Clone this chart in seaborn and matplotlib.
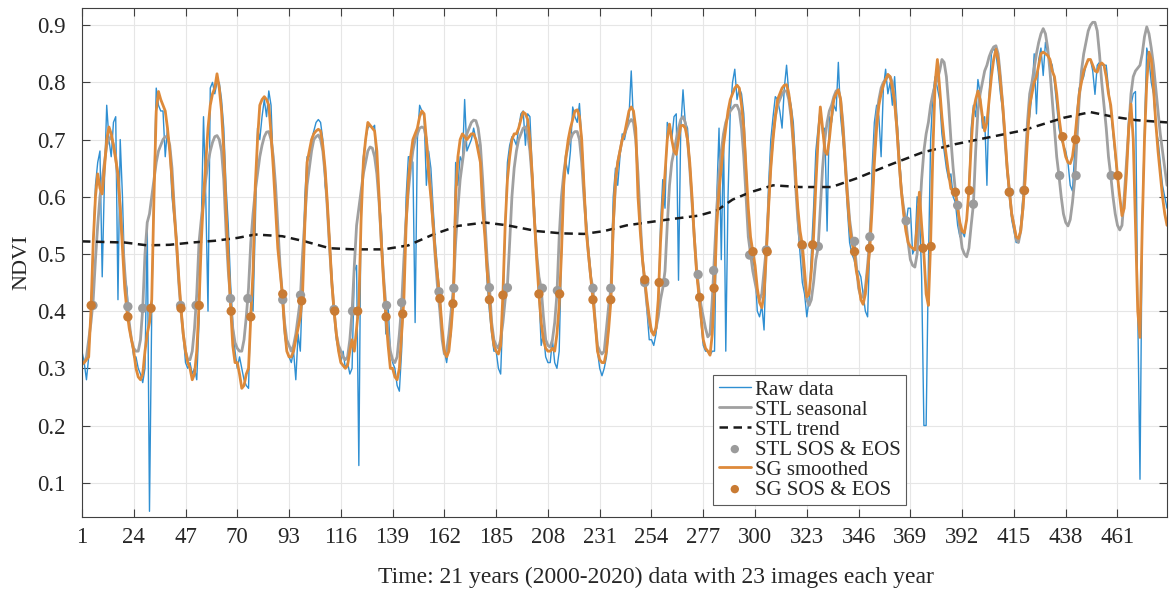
import numpy as np
import pandas as pd
import matplotlib
matplotlib.use("Agg")
import matplotlib.pyplot as plt
import seaborn as sns

# 21 years (2000-2020), 23 composite images per year
images_per_year = 23
n_years = 21
x_ticks = list(range(1, 462, 23))
y_ticks = [0.1, 0.2, 0.3, 0.4, 0.5, 0.6, 0.7, 0.8, 0.9]

# raw NDVI, one row per year
raw_ndvi = [
    0.33, 0.31, 0.28, 0.32, 0.40, 0.52, 0.62, 0.66, 0.68, 0.46, 0.63, 0.76, 0.70, 0.67, 0.73, 0.74, 0.42, 0.70, 0.60, 0.46, 0.44, 0.38, 0.35,
    0.32, 0.32, 0.30, 0.29, 0.275, 0.30, 0.555, 0.05, 0.40, 0.62, 0.79, 0.76, 0.75, 0.75, 0.67, 0.72, 0.68, 0.60, 0.56, 0.53, 0.45, 0.41, 0.36,
    0.31, 0.30, 0.31, 0.29, 0.30, 0.28, 0.38, 0.55, 0.74, 0.60, 0.40, 0.79, 0.80, 0.78, 0.80, 0.80, 0.77, 0.72, 0.62, 0.55, 0.45, 0.38, 0.33,
    0.30, 0.32, 0.30, 0.28, 0.27, 0.265, 0.42, 0.40, 0.55, 0.72, 0.70, 0.74, 0.77, 0.74, 0.785, 0.76, 0.65, 0.60, 0.53, 0.48, 0.42, 0.36, 0.33,
    0.32, 0.31, 0.33, 0.28, 0.36, 0.33, 0.45, 0.60, 0.67, 0.67, 0.70, 0.715, 0.73, 0.735, 0.73, 0.70, 0.62, 0.59, 0.53, 0.46, 0.40, 0.35, 0.33,
    0.31, 0.33, 0.30, 0.31, 0.29, 0.30, 0.47, 0.48, 0.13, 0.60, 0.67, 0.70, 0.72, 0.725, 0.72, 0.725, 0.64, 0.60, 0.55, 0.46, 0.36, 0.41, 0.33,
    0.31, 0.30, 0.27, 0.26, 0.33, 0.45, 0.60, 0.67, 0.67, 0.66, 0.38, 0.70, 0.76, 0.75, 0.74, 0.62, 0.68, 0.65, 0.58, 0.52, 0.47, 0.43, 0.37,
    0.33, 0.31, 0.34, 0.36, 0.45, 0.66, 0.62, 0.67, 0.66, 0.77, 0.68, 0.69, 0.70, 0.72, 0.70, 0.69, 0.66, 0.58, 0.53, 0.45, 0.40, 0.36, 0.33,
    0.33, 0.30, 0.29, 0.40, 0.55, 0.66, 0.69, 0.705, 0.70, 0.69, 0.72, 0.745, 0.75, 0.69, 0.745, 0.74, 0.65, 0.58, 0.50, 0.43, 0.34, 0.36, 0.32,
    0.31, 0.31, 0.35, 0.31, 0.30, 0.33, 0.50, 0.62, 0.66, 0.64, 0.68, 0.757, 0.74, 0.73, 0.763, 0.70, 0.63, 0.56, 0.51, 0.47, 0.42, 0.38, 0.33,
    0.30, 0.287, 0.30, 0.32, 0.37, 0.45, 0.60, 0.65, 0.62, 0.67, 0.71, 0.70, 0.72, 0.74, 0.82, 0.73, 0.71, 0.62, 0.55, 0.49, 0.46, 0.40, 0.35,
    0.35, 0.34, 0.36, 0.40, 0.55, 0.63, 0.58, 0.73, 0.72, 0.70, 0.74, 0.745, 0.454, 0.72, 0.787, 0.73, 0.72, 0.66, 0.60, 0.54, 0.47, 0.42, 0.38,
    0.34, 0.33, 0.33, 0.323, 0.33, 0.33, 0.60, 0.72, 0.49, 0.71, 0.33, 0.60, 0.75, 0.80, 0.823, 0.77, 0.79, 0.78, 0.745, 0.66, 0.57, 0.50, 0.49,
    0.47, 0.40, 0.39, 0.41, 0.367, 0.50, 0.62, 0.70, 0.74, 0.775, 0.77, 0.75, 0.72, 0.79, 0.83, 0.78, 0.76, 0.73, 0.66, 0.55, 0.50, 0.45, 0.43,
    0.39, 0.42, 0.50, 0.58, 0.68, 0.72, 0.757, 0.71, 0.72, 0.54, 0.74, 0.73, 0.76, 0.75, 0.835, 0.74, 0.70, 0.65, 0.58, 0.52, 0.50, 0.49, 0.47,
    0.47, 0.46, 0.43, 0.40, 0.39, 0.52, 0.65, 0.73, 0.76, 0.74, 0.67, 0.79, 0.823, 0.78, 0.80, 0.76, 0.81, 0.74, 0.68, 0.62, 0.57, 0.55, 0.58,
    0.58, 0.50, 0.51, 0.60, 0.58, 0.46, 0.20, 0.20, 0.48, 0.70, 0.78, 0.81, 0.79, 0.77, 0.71, 0.68, 0.65, 0.63, 0.64, 0.60, 0.59, 0.55, 0.53,
    0.54, 0.53, 0.56, 0.62, 0.72, 0.76, 0.74, 0.805, 0.78, 0.72, 0.74, 0.62, 0.78, 0.85, 0.86, 0.85, 0.82, 0.78, 0.75, 0.70, 0.64, 0.60, 0.56,
    0.54, 0.52, 0.52, 0.55, 0.60, 0.66, 0.72, 0.74, 0.78, 0.85, 0.745, 0.84, 0.86, 0.812, 0.87, 0.85, 0.84, 0.83, 0.80, 0.76, 0.72, 0.70, 0.69,
    0.68, 0.66, 0.62, 0.61, 0.68, 0.75, 0.79, 0.80, 0.81, 0.83, 0.84, 0.84, 0.82, 0.779, 0.83, 0.835, 0.83, 0.83, 0.83, 0.79, 0.75, 0.71, 0.67,
    0.63, 0.60, 0.57, 0.58, 0.65, 0.74, 0.76, 0.78, 0.784, 0.40, 0.106, 0.56, 0.72, 0.86, 0.84, 0.80, 0.78, 0.72, 0.70, 0.66, 0.62, 0.60, 0.58,
]

# Savitzky-Golay smoothed NDVI
sg_smoothed = [
    0.307, 0.31, 0.315, 0.32, 0.40, 0.52, 0.60, 0.64, 0.615, 0.605, 0.65, 0.70, 0.722, 0.71, 0.69, 0.665, 0.64, 0.58, 0.51, 0.44, 0.40, 0.37, 0.35,
    0.33, 0.30, 0.285, 0.28, 0.29, 0.33, 0.36, 0.38, 0.42, 0.60, 0.75, 0.784, 0.77, 0.76, 0.75, 0.72, 0.68, 0.63, 0.57, 0.52, 0.46, 0.405, 0.36,
    0.33, 0.31, 0.30, 0.28, 0.29, 0.33, 0.41, 0.52, 0.60, 0.66, 0.72, 0.76, 0.78, 0.79, 0.815, 0.79, 0.75, 0.68, 0.58, 0.49, 0.41, 0.34, 0.31,
    0.31, 0.29, 0.265, 0.27, 0.29, 0.30, 0.39, 0.47, 0.62, 0.70, 0.76, 0.77, 0.775, 0.77, 0.76, 0.71, 0.65, 0.58, 0.51, 0.47, 0.43, 0.37, 0.33,
    0.32, 0.32, 0.33, 0.35, 0.37, 0.39, 0.43, 0.55, 0.66, 0.68, 0.70, 0.71, 0.715, 0.718, 0.715, 0.69, 0.65, 0.59, 0.52, 0.45, 0.40, 0.36, 0.33,
    0.31, 0.305, 0.30, 0.305, 0.33, 0.35, 0.33, 0.37, 0.41, 0.56, 0.66, 0.70, 0.73, 0.725, 0.72, 0.715, 0.68, 0.60, 0.52, 0.45, 0.39, 0.34, 0.30,
    0.30, 0.285, 0.28, 0.30, 0.36, 0.42, 0.55, 0.63, 0.67, 0.70, 0.71, 0.72, 0.74, 0.75, 0.745, 0.70, 0.64, 0.60, 0.55, 0.50, 0.46, 0.42, 0.37,
    0.33, 0.32, 0.33, 0.37, 0.42, 0.60, 0.67, 0.70, 0.71, 0.705, 0.70, 0.705, 0.71, 0.71, 0.70, 0.68, 0.66, 0.58, 0.53, 0.47, 0.42, 0.37, 0.34,
    0.33, 0.325, 0.34, 0.43, 0.55, 0.63, 0.67, 0.70, 0.71, 0.71, 0.72, 0.735, 0.748, 0.745, 0.735, 0.70, 0.64, 0.56, 0.49, 0.43, 0.38, 0.35, 0.335,
    0.33, 0.33, 0.335, 0.33, 0.36, 0.41, 0.50, 0.62, 0.67, 0.70, 0.72, 0.735, 0.75, 0.752, 0.74, 0.70, 0.62, 0.54, 0.50, 0.46, 0.42, 0.38, 0.33,
    0.315, 0.31, 0.31, 0.33, 0.37, 0.42, 0.55, 0.63, 0.66, 0.68, 0.70, 0.71, 0.73, 0.75, 0.757, 0.75, 0.72, 0.60, 0.54, 0.49, 0.455, 0.42, 0.39,
    0.365, 0.358, 0.37, 0.42, 0.52, 0.59, 0.64, 0.70, 0.727, 0.70, 0.68, 0.674, 0.70, 0.724, 0.725, 0.72, 0.70, 0.66, 0.60, 0.53, 0.47, 0.43, 0.39,
    0.35, 0.335, 0.33, 0.323, 0.36, 0.44, 0.55, 0.61, 0.65, 0.69, 0.72, 0.75, 0.77, 0.78, 0.79, 0.795, 0.79, 0.76, 0.72, 0.65, 0.58, 0.53, 0.504,
    0.48, 0.44, 0.415, 0.406, 0.43, 0.50, 0.58, 0.65, 0.70, 0.74, 0.77, 0.78, 0.79, 0.795, 0.796, 0.78, 0.75, 0.70, 0.64, 0.58, 0.54, 0.516, 0.47,
    0.425, 0.43, 0.47, 0.53, 0.62, 0.70, 0.757, 0.72, 0.68, 0.674, 0.70, 0.74, 0.77, 0.78, 0.787, 0.77, 0.72, 0.66, 0.60, 0.55, 0.52, 0.504, 0.47,
    0.45, 0.42, 0.412, 0.43, 0.47, 0.51, 0.58, 0.66, 0.72, 0.76, 0.78, 0.795, 0.805, 0.814, 0.81, 0.79, 0.765, 0.72, 0.66, 0.61, 0.57, 0.54, 0.52,
    0.513, 0.51, 0.507, 0.55, 0.608, 0.55, 0.50, 0.43, 0.41, 0.52, 0.68, 0.80, 0.84, 0.79, 0.74, 0.70, 0.67, 0.64, 0.614, 0.61, 0.605, 0.58, 0.555,
    0.54, 0.537, 0.56, 0.611, 0.69, 0.75, 0.77, 0.785, 0.77, 0.74, 0.715, 0.73, 0.77, 0.81, 0.84, 0.858, 0.84, 0.80, 0.76, 0.71, 0.65, 0.608, 0.57,
    0.55, 0.53, 0.527, 0.54, 0.58, 0.63, 0.70, 0.76, 0.78, 0.80, 0.81, 0.83, 0.85, 0.853, 0.85, 0.847, 0.84, 0.82, 0.81, 0.78, 0.74, 0.71, 0.69,
    0.67, 0.66, 0.658, 0.67, 0.70, 0.74, 0.78, 0.80, 0.82, 0.83, 0.84, 0.84, 0.83, 0.82, 0.818, 0.83, 0.834, 0.83, 0.81, 0.78, 0.76, 0.72, 0.68,
    0.637, 0.60, 0.567, 0.58, 0.64, 0.72, 0.762, 0.70, 0.55, 0.40, 0.354, 0.55, 0.70, 0.80, 0.853, 0.84, 0.79, 0.73, 0.68, 0.64, 0.60, 0.57, 0.55,
]

# STL seasonal component (shown on the NDVI scale)
stl_seasonal = [
    0.31, 0.31, 0.32, 0.35, 0.38, 0.42, 0.49, 0.55, 0.60, 0.63, 0.66, 0.69, 0.70, 0.705, 0.69, 0.67, 0.63, 0.58, 0.53, 0.47, 0.42, 0.38, 0.35,
    0.335, 0.33, 0.33, 0.35, 0.405, 0.50, 0.555, 0.57, 0.60, 0.63, 0.66, 0.68, 0.69, 0.70, 0.705, 0.705, 0.69, 0.65, 0.58, 0.52, 0.45, 0.40, 0.36,
    0.33, 0.315, 0.315, 0.33, 0.37, 0.43, 0.52, 0.56, 0.59, 0.63, 0.66, 0.68, 0.695, 0.705, 0.707, 0.70, 0.68, 0.63, 0.54, 0.47, 0.42, 0.37, 0.345,
    0.335, 0.33, 0.33, 0.35, 0.39, 0.44, 0.52, 0.57, 0.61, 0.64, 0.67, 0.69, 0.705, 0.713, 0.714, 0.70, 0.67, 0.62, 0.55, 0.48, 0.43, 0.38, 0.35,
    0.34, 0.33, 0.34, 0.36, 0.39, 0.42, 0.50, 0.56, 0.62, 0.65, 0.68, 0.70, 0.705, 0.708, 0.70, 0.68, 0.64, 0.58, 0.51, 0.45, 0.40, 0.36, 0.34,
    0.33, 0.32, 0.315, 0.32, 0.35, 0.40, 0.48, 0.55, 0.58, 0.61, 0.64, 0.66, 0.68, 0.687, 0.685, 0.67, 0.64, 0.59, 0.52, 0.46, 0.41, 0.36, 0.33,
    0.315, 0.31, 0.32, 0.36, 0.41, 0.49, 0.56, 0.61, 0.65, 0.68, 0.70, 0.71, 0.72, 0.722, 0.72, 0.70, 0.66, 0.61, 0.55, 0.49, 0.44, 0.40, 0.35,
    0.325, 0.33, 0.36, 0.40, 0.44, 0.52, 0.58, 0.63, 0.66, 0.69, 0.71, 0.72, 0.73, 0.734, 0.733, 0.72, 0.69, 0.63, 0.56, 0.49, 0.445, 0.38, 0.35,
    0.34, 0.335, 0.35, 0.38, 0.42, 0.445, 0.52, 0.60, 0.65, 0.68, 0.70, 0.71, 0.72, 0.722, 0.71, 0.68, 0.63, 0.56, 0.50, 0.46, 0.44, 0.39, 0.35,
    0.34, 0.337, 0.35, 0.38, 0.43, 0.53, 0.60, 0.64, 0.67, 0.69, 0.70, 0.71, 0.714, 0.714, 0.70, 0.66, 0.60, 0.55, 0.50, 0.46, 0.44, 0.38, 0.34,
    0.33, 0.325, 0.33, 0.37, 0.41, 0.44, 0.55, 0.62, 0.66, 0.68, 0.70, 0.71, 0.72, 0.73, 0.735, 0.73, 0.70, 0.64, 0.56, 0.49, 0.45, 0.41, 0.38,
    0.365, 0.36, 0.37, 0.39, 0.42, 0.44, 0.47, 0.55, 0.62, 0.66, 0.68, 0.70, 0.72, 0.735, 0.74, 0.73, 0.70, 0.65, 0.59, 0.53, 0.475, 0.44, 0.41,
    0.39, 0.37, 0.355, 0.36, 0.42, 0.50, 0.58, 0.64, 0.68, 0.71, 0.73, 0.74, 0.75, 0.755, 0.76, 0.76, 0.75, 0.72, 0.67, 0.60, 0.53, 0.50, 0.47,
    0.45, 0.43, 0.42, 0.43, 0.47, 0.51, 0.59, 0.66, 0.71, 0.74, 0.76, 0.77, 0.78, 0.785, 0.785, 0.77, 0.74, 0.69, 0.62, 0.56, 0.52, 0.50, 0.45,
    0.42, 0.41, 0.42, 0.45, 0.49, 0.51, 0.58, 0.65, 0.70, 0.73, 0.75, 0.76, 0.775, 0.785, 0.787, 0.77, 0.73, 0.67, 0.61, 0.56, 0.53, 0.522, 0.48,
    0.44, 0.425, 0.424, 0.44, 0.48, 0.53, 0.60, 0.68, 0.74, 0.77, 0.79, 0.80, 0.805, 0.81, 0.81, 0.80, 0.77, 0.72, 0.66, 0.61, 0.58, 0.558, 0.52,
    0.49, 0.48, 0.477, 0.50, 0.56, 0.63, 0.68, 0.71, 0.73, 0.76, 0.78, 0.795, 0.805, 0.82, 0.84, 0.835, 0.81, 0.76, 0.70, 0.65, 0.61, 0.585, 0.54,
    0.51, 0.50, 0.495, 0.51, 0.55, 0.587, 0.68, 0.75, 0.78, 0.80, 0.82, 0.83, 0.845, 0.855, 0.862, 0.864, 0.85, 0.81, 0.76, 0.70, 0.65, 0.61, 0.57,
    0.55, 0.525, 0.52, 0.54, 0.58, 0.66, 0.73, 0.78, 0.80, 0.825, 0.85, 0.87, 0.885, 0.894, 0.885, 0.86, 0.82, 0.77, 0.72, 0.67, 0.637, 0.60, 0.57,
    0.555, 0.549, 0.56, 0.59, 0.63, 0.70, 0.77, 0.82, 0.85, 0.87, 0.89, 0.90, 0.905, 0.905, 0.89, 0.85, 0.80, 0.76, 0.72, 0.67, 0.637, 0.60, 0.57,
    0.55, 0.542, 0.55, 0.60, 0.66, 0.72, 0.78, 0.81, 0.82, 0.825, 0.83, 0.85, 0.88, 0.897, 0.885, 0.86, 0.83, 0.79, 0.75, 0.71, 0.68, 0.65, 0.62,
]

# STL trend component
trend_x = [1, 10, 20, 30, 40, 50, 60, 70, 78, 90, 100, 111, 122, 135, 146, 157, 168, 180, 190,
           203, 214, 224, 233, 243, 252, 261, 275, 283, 290, 298, 308, 320, 334, 345, 360, 374,
           389, 404, 419, 437, 449, 459, 469, 483]
trend_y = [0.522, 0.521, 0.52, 0.515, 0.516, 0.52, 0.523, 0.528, 0.534, 0.531, 0.522, 0.51, 0.508,
           0.508, 0.515, 0.534, 0.549, 0.555, 0.55, 0.54, 0.536, 0.535, 0.54, 0.55, 0.555, 0.56,
           0.567, 0.576, 0.595, 0.608, 0.62, 0.617, 0.617, 0.632, 0.656, 0.677, 0.692, 0.704,
           0.716, 0.738, 0.748, 0.74, 0.734, 0.73]

# start / end of season detected on the STL seasonal curve
stl_sos_eos_x = [5.9, 21.4, 28.0, 44.8, 51.7, 67.0, 74.7, 90.2, 98.1, 113.0, 121.2, 136.3, 143.0,
                 159.6, 166.2, 182.0, 190.0, 205.5, 212.2, 228.0, 235.9, 251.0, 259.9, 274.7,
                 281.6, 297.6, 305.0, 321.0, 328.1, 344.2, 351.0, 367.1, 390.0, 397.0, 413.1,
                 419.4, 435.3, 442.6, 458.2]
stl_sos_eos_y = [0.41, 0.408, 0.405, 0.41, 0.41, 0.422, 0.422, 0.42, 0.428, 0.403, 0.40, 0.41, 0.415,
                 0.434, 0.44, 0.441, 0.441, 0.44, 0.436, 0.44, 0.44, 0.45, 0.45, 0.464,
                 0.471, 0.498, 0.507, 0.515, 0.513, 0.522, 0.53, 0.558, 0.585, 0.587, 0.608,
                 0.611, 0.637, 0.637, 0.637]

# start / end of season detected on the SG smoothed curve
sg_sos_eos_x = [5.1, 21.4, 31.7, 45.0, 53.1, 67.3, 76.0, 90.2, 98.6, 113.3, 123.5, 136.1, 143.5,
                160.0, 165.8, 182.0, 188.0, 204.0, 213.2, 228.0, 235.9, 251.0, 257.4, 275.4,
                281.8, 299.1, 305.4, 320.9, 325.6, 344.2, 350.9, 374.6, 378.2, 389.0, 395.2,
                412.9, 419.7, 436.7, 442.4, 461.2]
sg_sos_eos_y = [0.41, 0.39, 0.405, 0.405, 0.41, 0.40, 0.39, 0.43, 0.418, 0.40, 0.40, 0.39, 0.395,
                0.422, 0.413, 0.42, 0.428, 0.43, 0.43, 0.42, 0.42, 0.455, 0.45, 0.424,
                0.44, 0.504, 0.504, 0.516, 0.516, 0.504, 0.51, 0.51, 0.513, 0.608, 0.611,
                0.608, 0.611, 0.705, 0.70, 0.637]

BLUE = "#2f8fd2"
GREY = "#a0a0a0"
ORANGE = "#de8a3a"
ORANGE_DOT = "#c97b33"
AXIS_COLOR = "#404040"

sns.set_theme(style="ticks")
plt.rcParams["font.family"] = ["Liberation Serif", "DejaVu Serif"]

image_index = np.arange(1, images_per_year * n_years + 1)
series = pd.DataFrame({
    "image": image_index,
    "raw": raw_ndvi,
    "sg": sg_smoothed,
    "stl": stl_seasonal,
})
trend = pd.DataFrame({"image": trend_x, "ndvi": trend_y})
stl_pts = pd.DataFrame({"image": stl_sos_eos_x, "ndvi": stl_sos_eos_y})
sg_pts = pd.DataFrame({"image": sg_sos_eos_x, "ndvi": sg_sos_eos_y})

fig = plt.figure(figsize=(11.69, 5.90), dpi=100)
ax = fig.add_axes([0.0701, 0.1237, 0.9282, 0.8627])

sns.lineplot(data=series, x="image", y="raw", ax=ax, color=BLUE, lw=1.0,
             estimator=None, label="Raw data")
sns.lineplot(data=series, x="image", y="stl", ax=ax, color=GREY, lw=2.0,
             estimator=None, label="STL seasonal")
sns.lineplot(data=trend, x="image", y="ndvi", ax=ax, color="#1a1a1a", lw=1.8,
             estimator=None, label="STL trend", linestyle=(0, (3.4, 2.2)))
sns.lineplot(data=series, x="image", y="sg", ax=ax, color=ORANGE, lw=2.0,
             estimator=None, label="SG smoothed")
sns.scatterplot(data=stl_pts, x="image", y="ndvi", ax=ax, color="#9b9b9b", s=45,
                edgecolor="none", label="STL SOS & EOS", zorder=5)
sns.scatterplot(data=sg_pts, x="image", y="ndvi", ax=ax, color=ORANGE_DOT, s=45,
                edgecolor="none", label="SG SOS & EOS", zorder=6)

ax.set_xlim(1, 483)
ax.set_ylim(0.04, 0.93)
ax.set_xticks(x_ticks)
ax.set_xticklabels([str(t) for t in x_ticks])
ax.set_yticks(y_ticks)
ax.set_yticklabels([f"{t:.1f}" for t in y_ticks])
ax.grid(True, color="#e6e6e6", lw=0.8)
ax.set_axisbelow(True)
ax.tick_params(direction="in", top=True, right=True, length=6, width=0.8,
               labelsize=16.5, colors=AXIS_COLOR, labelcolor="#262626")
ax.tick_params(axis="x", pad=7)
ax.tick_params(axis="y", pad=12)
for side in ["top", "bottom", "left", "right"]:
    ax.spines[side].set_visible(True)
    ax.spines[side].set_color(AXIS_COLOR)
    ax.spines[side].set_linewidth(0.8)

ax.set_xlabel("Time: 21 years (2000-2020) data with 23 images each year",
              fontsize=17, color="#262626")
ax.xaxis.set_label_coords(0.529, -0.098)
ax.set_ylabel("NDVI", fontsize=16, color="#262626")
ax.yaxis.set_label_coords(-0.047, 0.5)

handles, labels = ax.get_legend_handles_labels()
order = ["Raw data", "STL seasonal", "STL trend", "STL SOS & EOS", "SG smoothed", "SG SOS & EOS"]
lookup = dict(zip(labels, handles))
leg = ax.legend([lookup[k] for k in order], order, loc="lower left",
                bbox_to_anchor=(0.582, 0.024), fontsize=15, frameon=True,
                fancybox=False, framealpha=1, edgecolor="#5a5a5a",
                handlelength=1.55, handletextpad=0.2, labelspacing=0.02,
                borderpad=0.25, borderaxespad=0.0, markerscale=0.9)
leg.get_frame().set_linewidth(0.8)

fig.savefig("out.png", dpi=100)
